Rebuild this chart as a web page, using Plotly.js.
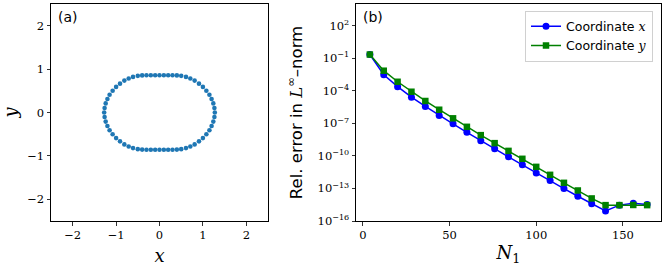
<!DOCTYPE html>
<html>
<head>
<meta charset="utf-8">
<script src="https://cdn.plot.ly/plotly-3.0.1.min.js"></script>
<style>html,body{margin:0;padding:0;background:#fff}#chart{width:665px;height:267px}</style>
</head>
<body>
<div id="chart"></div>
<script>
// Panel (a): boundary points
var ptX = [1.275,1.265,1.24,1.20,1.15,1.08,1.00,0.91,0.81,0.71,0.61,0.50,0.40,0.30,0.20,0.10,0,
-0.10,-0.20,-0.30,-0.40,-0.50,-0.61,-0.71,-0.81,-0.91,-1.00,-1.08,-1.15,-1.20,-1.24,-1.265,-1.275,
-1.265,-1.24,-1.20,-1.15,-1.08,-1.00,-0.91,-0.81,-0.71,-0.61,-0.50,-0.40,-0.30,-0.20,-0.10,0,
0.10,0.20,0.30,0.40,0.50,0.61,0.71,0.81,0.91,1.00,1.08,1.15,1.20,1.24,1.265];
var ptY = [0,0.105,0.21,0.31,0.41,0.50,0.59,0.665,0.735,0.785,0.82,0.845,0.855,0.86,0.86,0.86,0.86,
0.86,0.86,0.86,0.855,0.845,0.82,0.785,0.735,0.665,0.59,0.50,0.41,0.31,0.21,0.105,0,
-0.105,-0.21,-0.31,-0.41,-0.50,-0.59,-0.665,-0.735,-0.785,-0.82,-0.845,-0.855,-0.86,-0.86,-0.86,-0.86,
-0.86,-0.86,-0.86,-0.855,-0.845,-0.82,-0.785,-0.735,-0.665,-0.59,-0.50,-0.41,-0.31,-0.21,-0.105];

// Panel (b): convergence
var N1 = [4,12,20,28,36,44,52,60,68,76,84,92,100,108,116,124,132,140,148,156,164];
var errX = [2.2e-1,3.0e-3,2.4e-4,2.6e-5,3.6e-6,5.4e-7,9.0e-8,1.5e-8,2.5e-9,4.5e-10,8.2e-11,1.5e-11,2.7e-12,5.4e-13,9.8e-14,1.9e-14,3.8e-15,8.5e-16,2.9e-15,4.3e-15,3.3e-15];
var errY = [2.2e-1,7.1e-3,6.8e-4,8.2e-5,1.15e-5,1.8e-6,2.9e-7,4.8e-8,8.2e-9,1.5e-9,2.9e-10,5.4e-11,9.8e-12,1.8e-12,3.3e-13,6.5e-14,1.2e-14,2.9e-15,2.9e-15,3.0e-15,2.9e-15];

var yTickVals = [1e2,1e-1,1e-4,1e-7,1e-10,1e-13,1e-16];
var yTickText = ['10<sup>2</sup>','10<sup>\u22121</sup>','10<sup>\u22124</sup>','10<sup>\u22127</sup>','10<sup>\u221210</sup>','10<sup>\u221213</sup>','10<sup>\u221216</sup>'];

var W = 665, H = 267;
var serif = "'DejaVu Serif', 'Liberation Serif', serif";
var sans = "'DejaVu Sans', sans-serif";

var traces = [
  {x: ptX, y: ptY, xaxis: 'x', yaxis: 'y', type: 'scatter', mode: 'markers',
   marker: {color: '#1f77b4', size: 4.6}, showlegend: false},
  {x: N1, y: errX, xaxis: 'x2', yaxis: 'y2', type: 'scatter', mode: 'lines+markers',
   name: 'Coordinate <span style="font-family:' + "'DejaVu Serif'" + '"><i>x</i></span>',
   line: {color: 'blue', width: 1.5}, marker: {color: 'blue', size: 7, symbol: 'circle'}},
  {x: N1, y: errY, xaxis: 'x2', yaxis: 'y2', type: 'scatter', mode: 'lines+markers',
   name: 'Coordinate <span style="font-family:' + "'DejaVu Serif'" + '"><i>y</i></span>',
   line: {color: 'green', width: 1.5}, marker: {color: 'green', size: 6.5, symbol: 'square'}}
];

var axBase = {showline: true, mirror: true, linecolor: 'black', linewidth: 1, ticks: 'outside',
  ticklen: 3.5, tickwidth: 0.8, tickcolor: 'black', showgrid: false, zeroline: false,
  tickfont: {family: serif, size: 11.5, color: 'black'}, automargin: false};

function ax(extra) { return Object.assign({}, axBase, extra); }

var layout = {
  width: W, height: H,
  margin: {l: 0, r: 0, t: 0, b: 0},
  paper_bgcolor: 'white', plot_bgcolor: 'white',
  font: {family: sans, color: 'black'},
  xaxis: ax({domain: [51/W, 268/W], range: [-2.5, 2.5], tickvals: [-2,-1,0,1,2], anchor: 'y',
    title: {text: '<i>x</i>', font: {family: serif, size: 18, color: 'black'}, standoff: 8}}),
  yaxis: ax({domain: [46/H, 263/H], range: [-2.5, 2.5], tickvals: [-2,-1,0,1,2], anchor: 'x',
    title: {text: '<i>y</i>', font: {family: serif, size: 18, color: 'black'}, standoff: 9}}),
  xaxis2: ax({domain: [356/W, 661/W], range: [-4, 172], tickvals: [0,50,100,150], anchor: 'y2',
    title: {text: '<i>N</i><sub>1</sub>', font: {family: serif, size: 18, color: 'black'}, standoff: 5}}),
  yaxis2: ax({domain: [46/H, 263/H], type: 'log', range: [-16, 4], tickvals: yTickVals, ticktext: yTickText, anchor: 'x2',
    title: {text: 'Rel. error in <span style="font-family:' + "'DejaVu Serif'" + '"><i>L</i></span><sup>\u221e</sup>\u2013norm',
      font: {family: sans, size: 16.5, color: 'black'}, standoff: 10}}),
  showlegend: true,
  legend: {x: 653/W, xanchor: 'right', y: (H-10.5)/H, yanchor: 'top', bgcolor: 'white',
    bordercolor: '#d0d0d0', borderwidth: 1, font: {family: sans, size: 12.5, color: 'black'},
    tracegroupgap: 0},
  annotations: [
    {text: '(a)', xref: 'paper', yref: 'paper', x: 56/W, y: (H-17)/H, xanchor: 'left', yanchor: 'middle',
     showarrow: false, font: {family: sans, size: 14, color: 'black'}},
    {text: '(b)', xref: 'paper', yref: 'paper', x: 361/W, y: (H-17)/H, xanchor: 'left', yanchor: 'middle',
     showarrow: false, font: {family: sans, size: 14, color: 'black'}}
  ]
};

Plotly.newPlot('chart', traces, layout, {staticPlot: true, displayModeBar: false});
</script>
</body>
</html>
